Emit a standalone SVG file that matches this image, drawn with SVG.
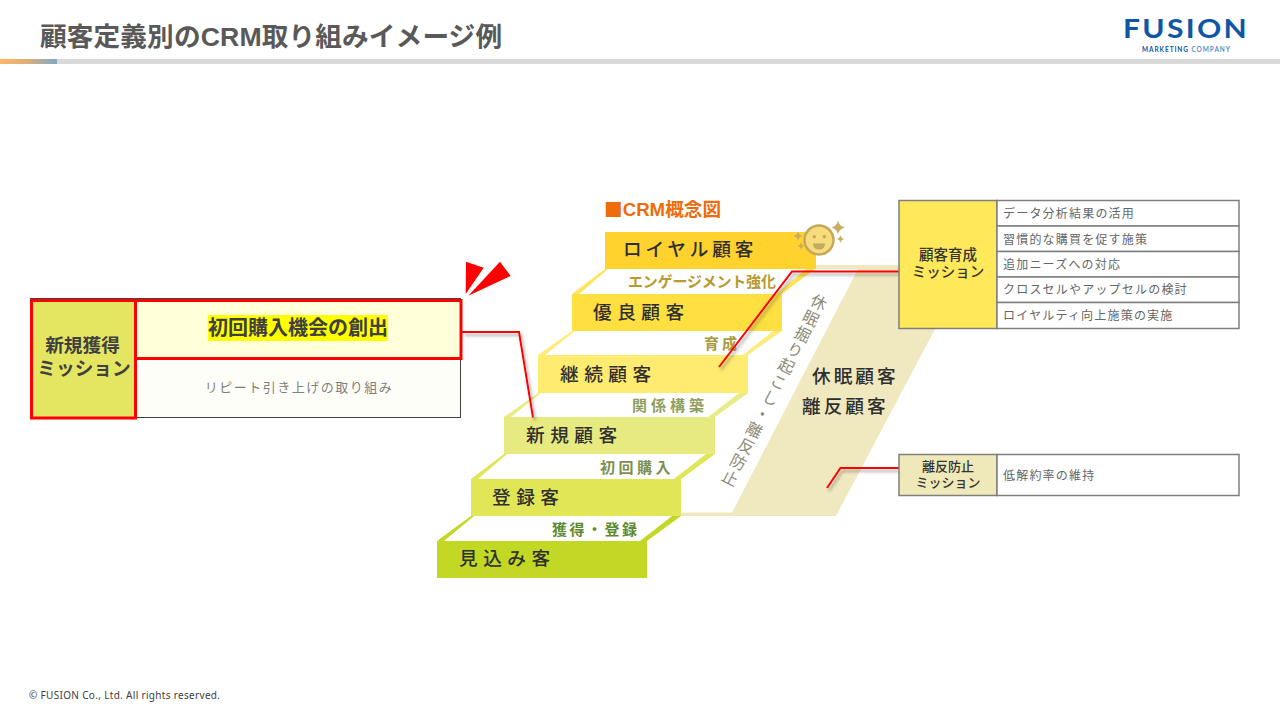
<svg xmlns="http://www.w3.org/2000/svg" width="1280" height="720" viewBox="0 0 1280 720">
<style>
text{font-family:"Liberation Sans","Noto Sans CJK JP",sans-serif;fill:#404040}
.jp{font-family:"Noto Sans CJK JP",sans-serif}
.step{font-family:"Noto Sans CJK JP",sans-serif;font-size:18.67px;font-weight:500;letter-spacing:5.500px;fill:#2f2f2f}
.tread{font-family:"Noto Sans CJK JP",sans-serif;font-size:15px;font-weight:700}
.row{font-family:"Noto Sans CJK JP",sans-serif;font-size:12px;letter-spacing:1.200px;fill:#666}
.mis{font-family:"Liberation Sans","Noto Sans CJK JP",sans-serif;font-weight:500;text-anchor:middle;fill:#333}
.cell{stroke:#7f7f7f;stroke-width:1.500}
.red{fill:none;stroke:#f00;stroke-width:2;filter:url(#sh)}
.wh{fill:#fff}
.star{fill:#c9ae5e}
</style>
<defs>
<linearGradient id="g"><stop offset="0" stop-color="#fbb868"/><stop offset=".45" stop-color="#e0ae78"/><stop offset="1" stop-color="#7fa8c8"/></linearGradient>
<filter id="sh" x="-30%" y="-30%" width="170%" height="170%"><feDropShadow dx="2" dy="3" stdDeviation="1.600" flood-color="#555" flood-opacity=".5"/></filter>
</defs>
<rect width="1280" height="720" fill="#fff"/>
<g id="header">
<rect x="0" y="59" width="1280" height="5" fill="#d9d9d9"/>
<rect x="0" y="59" width="57" height="5" fill="url(#g)"/>
<text x="40" y="45.500" font-size="26.670" font-weight="700" letter-spacing=".12" style="fill:#595959">顧客定義別のCRM取り組みイメージ例</text>
</g>
<g id="logo">
<text x="1123" y="38" font-size="26.500" font-weight="700" letter-spacing="2" textLength="126" lengthAdjust="spacingAndGlyphs" style="font-family:Lato,sans-serif;fill:#0f56a5">FUSION</text>
<text x="1142" y="51.500" font-size="6.500" font-weight="700" textLength="88" lengthAdjust="spacing" style="font-family:Lato,sans-serif;fill:#0f56a5">MARKETING <tspan style="fill:#5b8fc4">COMPANY</tspan></text>
</g>
<text id="footer" x="29" y="699" font-size="10" textLength="191" lengthAdjust="spacing" style="font-family:'Noto Sans',sans-serif;fill:#404040">© FUSION Co., Ltd. All rights reserved.</text>
<text id="crm-title" x="604" y="216" font-size="18.670" font-weight="700" style="fill:#ee6c0a"><tspan class="jp" style="fill:#ee6c0a">■</tspan>CRM概念図</text>

<g id="dormant-band">
<polygon points="815,265 969,265 836,516 681,516 681,512.500 732,512.500 858,269 815,269" fill="#f0e9c0"/>
<text x="812" y="383" font-size="18.670" font-weight="500" letter-spacing="3" class="jp" style="fill:#2f2f2f">休眠顧客</text>
<text x="802" y="413" font-size="18.670" font-weight="500" letter-spacing="3" class="jp" style="fill:#2f2f2f">離反顧客</text>
<text transform="translate(822.600,295) rotate(26.800)" font-size="16" letter-spacing="1.900" class="jp" style="writing-mode:vertical-rl;fill:#8c8c78;font-weight:400">休眠掘り起こし・離反防止</text>
</g>

<g id="tread-engagement">
<polygon points="605,269 815,269 782,294 572,294" fill="#ffe45a"/>
<polygon class="wh" points="608,269 806,269 776,294 579,294"/>
<text class="tread" x="628" y="287" style="fill:#b89a30" letter-spacing="-.200">エンゲージメント強化</text>
</g>
<g id="tread-nurture">
<polygon points="572,331 782,331 748,355 538,355" fill="#ffeb7d"/>
<polygon class="wh" points="575,331 773,331 743,355 545,355"/>
<text class="tread" x="704" y="349" letter-spacing="3" style="fill:#a89a40">育成</text>
</g>
<g id="tread-relation">
<polygon points="538,393 748,393 715,417 504,417" fill="#e8ec88"/>
<polygon class="wh" points="541,393 739,393 708,417 511,417"/>
<text class="tread" x="632" y="411" letter-spacing="4" style="fill:#8e9e5e">関係構築</text>
</g>
<g id="tread-first">
<polygon points="504,454 715,454 681,479 471,479" fill="#e0e655"/>
<polygon class="wh" points="507,454 706,454 674,479 478,479"/>
<text class="tread" x="600" y="473" letter-spacing="3.500" style="fill:#7d9050">初回購入</text>
</g>
<g id="tread-acquire">
<polygon points="471,516 681,516 647,541 437,541" fill="#c2d824"/>
<polygon class="wh" points="474,516 672,516 640,541 444,541"/>
<text class="tread" x="552" y="535" letter-spacing="2.500" style="fill:#5f8a2e">獲得・登録</text>
</g>

<g id="step-royal"><rect x="605" y="232" width="211" height="37" fill="#ffd22e"/><text class="step" x="623" y="256" style="letter-spacing:3.800px">ロイヤル顧客</text></g>
<g id="step-excellent"><rect x="572" y="294" width="210" height="37" fill="#ffe040"/><text class="step" x="593" y="319">優良顧客</text></g>
<g id="step-continuing"><rect x="538" y="355" width="210" height="38" fill="#ffeb70"/><text class="step" x="560" y="381">継続顧客</text></g>
<g id="step-new"><rect x="504" y="417" width="211" height="37" fill="#e6ea80"/><text class="step" x="526" y="442">新規顧客</text></g>
<g id="step-registered"><rect x="471" y="479" width="210" height="37" fill="#e0e655"/><text class="step" x="492" y="504">登録客</text></g>
<g id="step-prospect"><rect x="437" y="541" width="210" height="37" fill="#c2d824"/><text class="step" x="459" y="565">見込み客</text></g>

<g id="face">
<circle cx="819" cy="240" r="14.500" fill="#f7dc7e" stroke="#c4a95c" stroke-width="2.500"/>
<circle cx="814.300" cy="236.700" r="1.800" fill="#c4a95c"/>
<circle cx="824.300" cy="236.700" r="1.800" fill="#c4a95c"/>
<path d="M813 243.500H825Q825 249.500 819 249.500T813 243.500Z" fill="#c4a95c"/>
<path class="star" d="M838 220.500Q839 226 845 227.500Q839 229 838 234.500Q837 229 831.500 227.500Q837 226 838 220.500Z"/>
<path class="star" d="M840.500 235Q841 238.500 844.500 239Q841 239.500 840.500 243Q840 239.500 836.500 239Q840 238.500 840.500 235Z"/>
<path class="star" d="M798 231Q798.500 235 803 236Q798.500 237 798 241Q797.500 237 793 236Q797.500 235 798 231Z"/>
<path class="star" d="M801 242Q801.500 245.500 805 246Q801.500 246.500 801 250Q800.500 246.500 797 246Q800.500 245.500 801 242Z"/>
</g>

<g id="mission-acquire">
<rect x="30.500" y="298.500" width="430" height="119" fill="#fefef8" stroke="#404040"/>
<rect x="31.500" y="300.500" width="104" height="117.500" fill="#e4e662" stroke="#f00" stroke-width="3"/>
<rect x="135.500" y="300.500" width="325.500" height="58" fill="#ffffd9" stroke="#f00" stroke-width="3"/>
<rect x="208" y="315" width="180" height="26" fill="#ff0"/>
<text x="298" y="335" font-size="20" font-weight="700" text-anchor="middle" class="jp" style="fill:#404040">初回購入機会の創出</text>
<text class="mis" x="82.500" y="352" font-size="18.670" style="font-weight:700;fill:#404040">新規獲得</text>
<text class="mis" x="84" y="375" font-size="18.670" style="font-weight:700;fill:#404040">ミッション</text>
<text x="299" y="392" font-size="13" letter-spacing="1.500" text-anchor="middle" class="jp" style="fill:#7f7f7f">リピート引き上げの取り組み</text>
<polygon points="466,261.700 483.700,267.700 465.700,294" fill="#f00"/>
<polygon points="500,261.700 510.700,276 468.300,295.700" fill="#f00"/>
</g>

<g id="connectors">
<path class="red" d="M462 332H519L533 417.500"/>
<path class="red" d="M899 271.500H792L719 367"/>
<path class="red" d="M899 468H840.500L827 488"/>
</g>

<g id="mission-nurture">
<rect class="cell" x="899" y="200.500" width="98" height="128" fill="#ffe95a"/>
<rect class="cell" x="997" y="200.500" width="242" height="25.500" fill="#fff"/>
<rect class="cell" x="997" y="226" width="242" height="25.500" fill="#fff"/>
<rect class="cell" x="997" y="251.500" width="242" height="25.500" fill="#fff"/>
<rect class="cell" x="997" y="277" width="242" height="25.500" fill="#fff"/>
<rect class="cell" x="997" y="302.500" width="242" height="26" fill="#fff"/>
<text class="mis" x="948" y="260" font-size="14.500">顧客育成</text>
<text class="mis" x="948" y="277" font-size="14.500">ミッション</text>
<text class="row" x="1003" y="217.500">データ分析結果の活用</text>
<text class="row" x="1003" y="243.500">習慣的な購買を促す施策</text>
<text class="row" x="1003" y="268.500">追加ニーズへの対応</text>
<text class="row" x="1003" y="294">クロスセルやアップセルの検討</text>
<text class="row" x="1003" y="319.500">ロイヤルティ向上施策の実施</text>
</g>

<g id="mission-prevent">
<rect class="cell" x="899" y="454.500" width="98" height="41" fill="#efe8b8"/>
<rect class="cell" x="997" y="454.500" width="242" height="41" fill="#fff"/>
<text class="mis" x="948" y="471" font-size="13">離反防止</text>
<text class="mis" x="948" y="487" font-size="13">ミッション</text>
<text class="row" x="1003" y="480">低解約率の維持</text>
</g>
</svg>
